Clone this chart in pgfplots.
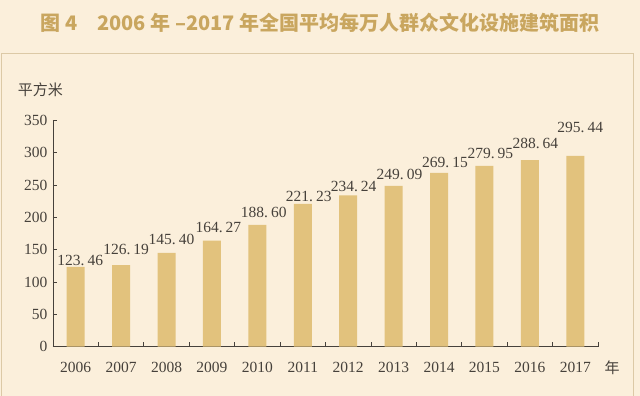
\documentclass[border=0pt]{standalone}
\usepackage{pgfplots}
\pgfplotsset{compat=1.18}
\usepackage{fontspec}
\setmainfont{Liberation Serif}
\newfontfamily\cjk{Noto Sans CJK SC}
\definecolor{bgc}{HTML}{FBEFDB}
\definecolor{barc}{HTML}{E2C27D}
\definecolor{titlec}{HTML}{C9A65F}
\definecolor{txtc}{HTML}{46413B}
\definecolor{framec}{HTML}{DCC9A6}
\begin{document}
\begin{tikzpicture}[x=1pt,y=1pt]
\path[use as bounding box, fill=bgc] (0,0) rectangle (640,396);
\draw[framec, line width=1pt] (1,-5) rectangle (633,342);
\node[text=titlec, font={\cjk\bfseries\fontsize{20}{22}\selectfont}] at (320,373) {图 4\quad 2006 年 –2017 年全国平均每万人群众文化设施建筑面积};
\begin{axis}[
  at={(53pt,49.3pt)}, anchor=south west,
  scale only axis, width=545pt, height=226.1pt,
  xmin=-0.5, xmax=11.5, ymin=0, ymax=350,
  axis lines*=left,
  axis line style={color=txtc, line width=0.8pt},
  tick style={color=txtc, line width=0.8pt},
  tick align=inside, major tick length=4.5pt,
  xtick={-0.5,0.5,...,11.5},
  x tick label as interval,
  xticklabels={2006,2007,2008,2009,2010,2011,2012,2013,2014,2015,2016,2017},
  ytick={0,50,...,350},
  /pgf/number format/assume math mode=true,
  ticklabel style={font=\fontsize{15.5}{17}\selectfont, text=txtc},
  xticklabel style={yshift=-12pt},
  yticklabel style={xshift=-2pt},
  ylabel={\cjk 平方米},
  ylabel style={rotate=-90, at={(axis description cs:-0.023,1.135)}, anchor=center, font=\fontsize{15}{16}\selectfont, text=txtc},
  xlabel={\cjk 年},
  xlabel style={at={(axis description cs:1.026,-0.094)}, anchor=center, font=\fontsize{15}{16}\selectfont, text=txtc},
  clip=false,
]
\addplot[ybar, bar width=18pt, bar shift=0pt, fill=barc, draw=none] coordinates {
(0,123.46) (1,126.19) (2,145.40) (3,164.27) (4,188.60) (5,221.23)
(6,234.24) (7,249.09) (8,269.15) (9,279.95) (10,288.64) (11,295.44)
};
\addplot[draw=none, mark=none, nodes near coords, point meta=explicit symbolic,
  nodes near coords style={anchor=center, font=\fontsize{15.5}{17}\selectfont, text=txtc, inner sep=0pt}] coordinates {
(0.10,134.2) [123.\kern3pt 46]
(1.11,151.2) [126.\kern3pt 19]
(2.11,166.7) [145.\kern3pt 40]
(3.14,185.3) [164.\kern3pt 27]
(4.14,208.5) [188.\kern3pt 60]
(5.13,231.9) [221.\kern3pt 23]
(6.12,247.4) [234.\kern3pt 24]
(7.13,267.3) [249.\kern3pt 09]
(8.13,284.4) [269.\kern3pt 15]
(9.13,299.8) [279.\kern3pt 95]
(10.12,315.3) [288.\kern3pt 64]
(11.11,340.1) [295.\kern3pt 44]
};
\end{axis}
\end{tikzpicture}
\end{document}
